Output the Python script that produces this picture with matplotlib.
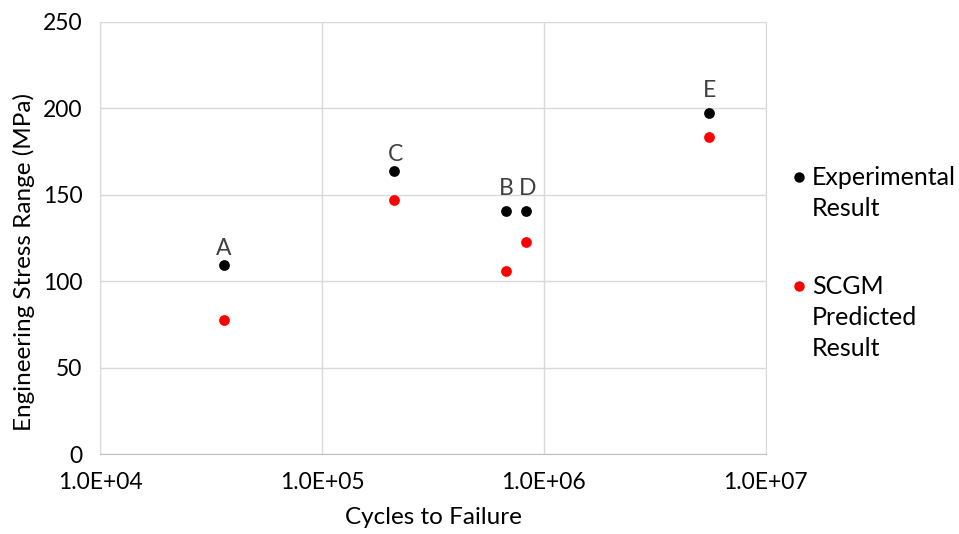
import matplotlib
matplotlib.use("Agg")
import matplotlib.pyplot as plt
from matplotlib.lines import Line2D
from matplotlib.ticker import FixedLocator, FuncFormatter

plt.rcParams['font.family'] = ['Lato', 'DejaVu Sans']

labels = ["A", "C", "B", "D", "E"]
cycles = [36000, 211600, 676900, 827900, 5530000]
experimental = [109.1, 163.5, 140.5, 140.5, 197.4]
predicted = [77.7, 146.9, 105.8, 122.4, 183.3]
label_offsets = [17, 17, 23, 23, 22]
label_dx = [0, 1, 0, 2, 1]

x_ticks = [1e4, 1e5, 1e6, 1e7]
y_ticks = [0, 50, 100, 150, 200, 250]

fig = plt.figure(figsize=(9.59, 5.34), dpi=100)
ax = fig.add_axes([0.1046, 0.1498, 0.6938, 0.8096])

grid_c = '#d9d9d9'
ax.scatter(cycles, experimental, s=60, color='black', zorder=3, linewidths=0)
ax.scatter(cycles, predicted, s=60, color='#ff0000', zorder=3, linewidths=0)

for lab, x, y, off, dx in zip(labels, cycles, experimental, label_offsets, label_dx):
    ax.annotate(lab, (x, y), xytext=(dx, off), textcoords='offset pixels',
                ha='center', va='center', fontsize=16.5, color='#404040')

ax.set_xscale('log')
ax.set_xlim(1e4, 1e7)
ax.set_ylim(0, 250)
ax.xaxis.set_major_locator(FixedLocator(x_ticks))
ax.xaxis.set_minor_locator(FixedLocator([]))
ax.xaxis.set_major_formatter(FuncFormatter(lambda v, p: "%.1E" % v))
ax.set_yticks(y_ticks)
ax.grid(True, color=grid_c, linewidth=1)
ax.set_axisbelow(True)
for s in ax.spines.values():
    s.set_color(grid_c)
ax.spines['bottom'].set_color('#bfbfbf')
ax.tick_params(length=0, labelsize=16.5, colors='#404040', labelcolor='black')
ax.tick_params(axis='x', pad=13)
ax.tick_params(axis='y', pad=13)

ax.set_xlabel("Cycles to Failure", fontsize=17.5, labelpad=10)
ax.set_ylabel("Engineering Stress Range (MPa)", fontsize=17.5)
ax.yaxis.set_label_coords(-0.098, 0.445)

# legend
W, H = 959, 534
def fx(px):
    return px / W
def fy(py):
    return 1 - py / H
fig.add_artist(Line2D([fx(799)], [fy(177)], marker='o', color='black', ms=7.5, mew=0))
fig.add_artist(Line2D([fx(799)], [fy(286)], marker='o', color='#ff0000', ms=7.5, mew=0))
fig.text(fx(812), fy(166), "Experimental\nResult", fontsize=18, va='top', ha='left',
         linespacing=1.42)
fig.text(fx(812), fy(275), "SCGM\nPredicted\nResult", fontsize=18, va='top', ha='left',
         linespacing=1.42)

fig.savefig("out.png", dpi=100)
